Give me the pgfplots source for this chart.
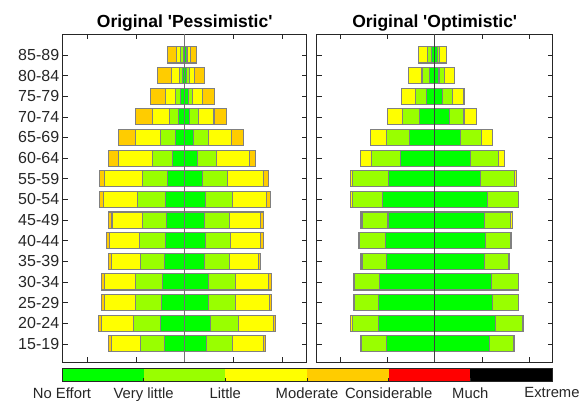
\documentclass[border=0pt]{standalone}
\usepackage{fontspec}
\setmainfont{Liberation Sans}
\usepackage{pgfplots}
\pgfplotsset{compat=1.18}
\usepackage{pgfplotstable}

\definecolor{cGreen}{RGB}{0,255,0}
\definecolor{cLGreen}{RGB}{153,255,0}
\definecolor{cYellow}{RGB}{255,255,0}
\definecolor{cOrange}{RGB}{255,204,0}
\definecolor{cRed}{RGB}{255,0,0}
\definecolor{cBlack}{RGB}{0,0,0}
\definecolor{edgeGray}{RGB}{128,128,128}
\definecolor{axGray}{RGB}{38,38,38}

% cumulative half-widths measured from the centre line
% g = No Effort (green), lg = Very little, y = Little, o = Moderate
\pgfplotstableread{
row Lg   Llg  Ly   Lo   Rg   Rlg  Ry   Ro
1   0.41 0.90 1.50 1.56 0.45 0.98 1.61 1.65
2   0.49 1.05 1.71 1.76 0.52 1.11 1.82 1.86
3   0.48 1.01 1.65 1.71 0.49 1.05 1.73 1.78
4   0.46 1.01 1.65 1.71 0.48 1.04 1.72 1.77
5   0.41 0.90 1.50 1.56 0.41 0.92 1.51 1.56
6   0.40 0.92 1.54 1.60 0.42 0.93 1.55 1.61
7   0.37 0.87 1.49 1.56 0.41 0.92 1.55 1.61
8   0.40 0.96 1.67 1.75 0.42 0.98 1.68 1.76
9   0.36 0.87 1.64 1.75 0.36 0.88 1.61 1.72
10  0.25 0.66 1.35 1.56 0.27 0.66 1.32 1.46
11  0.19 0.49 1.00 1.35 0.18 0.48 0.95 1.20
12  0.12 0.31 0.66 1.00 0.10 0.28 0.60 0.86
13  0.08 0.18 0.40 0.71 0.07 0.16 0.36 0.61
14  0.05 0.11 0.27 0.56 0.04 0.10 0.20 0.40
15  0.03 0.08 0.16 0.36 0.03 0.06 0.12 0.25
}\pess

\pgfplotstableread{
row Lg   Llg  Ly   Rg   Rlg  Ry
1   1.03 1.55 1.57 1.16 1.67 1.68
2   1.20 1.75 1.78 1.29 1.87 1.89
3   1.19 1.69 1.71 1.23 1.77 1.78
4   1.16 1.69 1.71 1.20 1.77 1.78
5   1.03 1.54 1.57 1.06 1.56 1.58
6   1.05 1.60 1.62 1.08 1.61 1.62
7   0.99 1.54 1.57 1.06 1.61 1.64
8   1.10 1.74 1.78 1.12 1.77 1.78
9   0.97 1.75 1.78 0.97 1.69 1.73
10  0.73 1.33 1.57 0.75 1.36 1.48
11  0.54 1.03 1.36 0.54 0.99 1.23
12  0.32 0.69 1.00 0.31 0.62 0.88
13  0.18 0.41 0.71 0.17 0.37 0.62
14  0.11 0.27 0.55 0.09 0.20 0.42
15  0.06 0.16 0.35 0.05 0.11 0.25
}\opt

\pgfplotsset{
  seg/.style={xbar, bar width=0.78, bar shift=0pt, draw=edgeGray, line width=1.1pt, fill=#1},
  panel/.style={
    scale only axis, height=327.7pt,
    xmin=-2.5, xmax=2.5, ymin=0.12, ymax=16,
    xtick={-2,-1,0,1,2}, xticklabels={},
    ytick={1,...,15},
    tick align=inside, major tick length=5pt,
    axis line style={axGray, line width=0.6pt},
    tick style={axGray, line width=0.6pt},
    tick label style={font=\fontsize{16}{18}\selectfont, text=axGray},
    title style={font=\fontsize{17.5}{20}\selectfont\bfseries, text=black, yshift=-6.5pt},
  },
}

\begin{document}
\begin{tikzpicture}
\useasboundingbox (0pt,0pt) rectangle (579pt,401pt);

% ---------- Pessimistic ----------
\begin{axis}[panel, anchor=south west, at={(62.7pt,39pt)}, width=244pt,
  title={Original \textquotesingle Pessimistic\textquotesingle},
  yticklabels={15-19,20-24,25-29,30-34,35-39,40-44,45-49,50-54,55-59,60-64,65-69,70-74,75-79,80-84,85-89}]
\addplot[seg=cOrange]  table[y=row, x expr=-\thisrow{Lo}]  {\pess};
\addplot[seg=cYellow]  table[y=row, x expr=-\thisrow{Ly}]  {\pess};
\addplot[seg=cLGreen]  table[y=row, x expr=-\thisrow{Llg}] {\pess};
\addplot[seg=cGreen]   table[y=row, x expr=-\thisrow{Lg}]  {\pess};
\addplot[seg=cOrange]  table[y=row, x=Ro]  {\pess};
\addplot[seg=cYellow]  table[y=row, x=Ry]  {\pess};
\addplot[seg=cLGreen]  table[y=row, x=Rlg] {\pess};
\addplot[seg=cGreen]   table[y=row, x=Rg]  {\pess};
\addplot[color=black!55, line width=1pt] coordinates {(0,0.12) (0,16)};
\end{axis}

% ---------- Optimistic ----------
\begin{axis}[panel, anchor=south west, at={(316.7pt,39pt)}, width=236pt,
  title={Original \textquotesingle Optimistic\textquotesingle},
  yticklabels={}]
\addplot[seg=cYellow]  table[y=row, x expr=-\thisrow{Ly}]  {\opt};
\addplot[seg=cLGreen]  table[y=row, x expr=-\thisrow{Llg}] {\opt};
\addplot[seg=cGreen]   table[y=row, x expr=-\thisrow{Lg}]  {\opt};
\addplot[seg=cYellow]  table[y=row, x=Ry]  {\opt};
\addplot[seg=cLGreen]  table[y=row, x=Rlg] {\opt};
\addplot[seg=cGreen]   table[y=row, x=Rg]  {\opt};
\addplot[color=black!75, line width=1pt] coordinates {(0,0.12) (0,16)};
\end{axis}

% ---------- colour bar ----------
\begin{axis}[scale only axis, anchor=south west, at={(62pt,20pt)}, width=490pt, height=13pt,
  xmin=0, xmax=6, ymin=0, ymax=1,
  ytick=\empty, xtick={0,...,6}, xtick pos=bottom,
  xticklabels={No Effort,Very little,Little,Moderate,Considerable,Much,Extreme},
  tick align=inside, major tick length=3pt,
  axis line style={axGray, line width=0.6pt},
  tick style={axGray, line width=0.6pt},
  xticklabel style={font=\fontsize{14.8}{16}\selectfont, text=axGray, yshift=-3pt},
  axis on top]
\addplot[xbar stacked, bar width=1, bar shift=0pt, fill=cGreen, draw=none]  coordinates {(1,0.5)};
\addplot[xbar stacked, bar width=1, bar shift=0pt, fill=cLGreen, draw=none] coordinates {(1,0.5)};
\addplot[xbar stacked, bar width=1, bar shift=0pt, fill=cYellow, draw=none] coordinates {(1,0.5)};
\addplot[xbar stacked, bar width=1, bar shift=0pt, fill=cOrange, draw=none] coordinates {(1,0.5)};
\addplot[xbar stacked, bar width=1, bar shift=0pt, fill=cRed, draw=none]    coordinates {(1,0.5)};
\addplot[xbar stacked, bar width=1, bar shift=0pt, fill=cBlack, draw=none]  coordinates {(1,0.5)};
\end{axis}
\end{tikzpicture}
\end{document}
